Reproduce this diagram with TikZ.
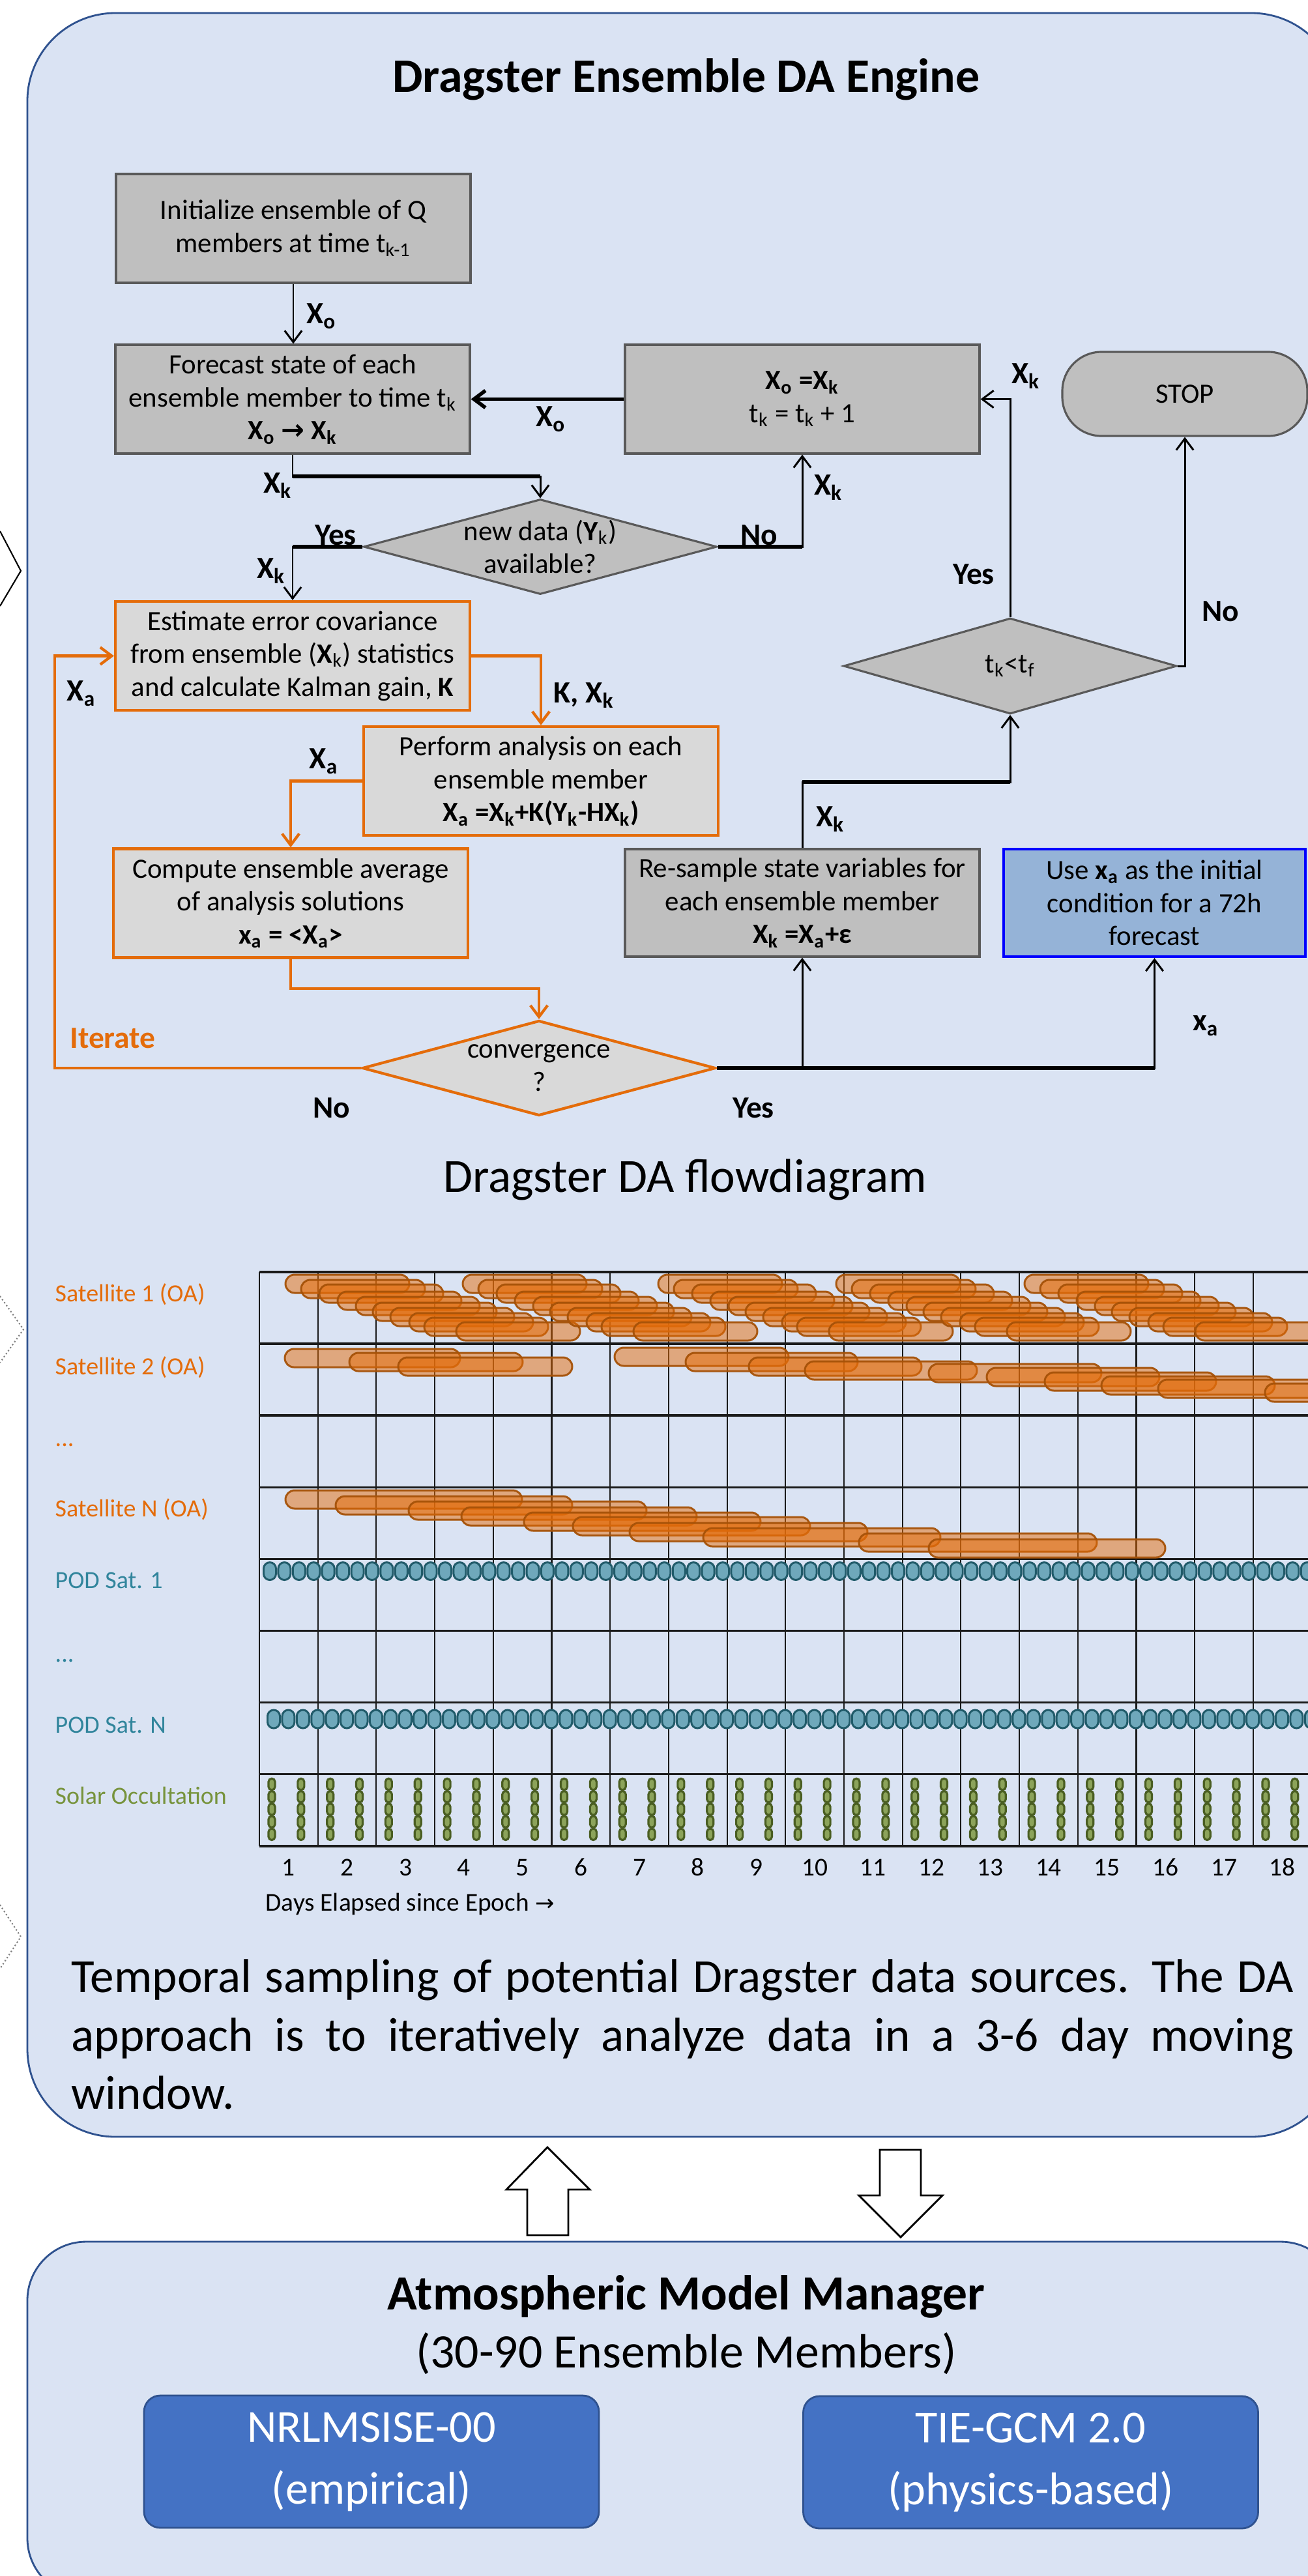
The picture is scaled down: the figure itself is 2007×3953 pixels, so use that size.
\documentclass[tikz,border=0pt]{standalone}
\usepackage{fontspec}
\setmainfont{Carlito}
\newfontfamily\arrowfont{DejaVu Sans}
\usetikzlibrary{shapes.geometric,arrows.meta}
\newcommand\sbs[1]{\textsubscript{#1}}
\newcommand\boxfont{\fontsize{12.2}{14.4}\selectfont}
\newcommand\lblfont{\fontsize{13.5}{15}\selectfont\bfseries}
\newcommand\bigfont{\fontsize{20.8}{25.4}\selectfont}
\newcommand\rowfont{\fontsize{10.8}{13}\selectfont}
\newcommand\modfont{\fontsize{20}{27}\selectfont}
\definecolor{panelfill}{HTML}{DAE3F3}
\definecolor{panelline}{HTML}{2F528F}
\definecolor{boxgray}{HTML}{BFBFBF}
\definecolor{boxlight}{HTML}{D9D9D9}
\definecolor{borderdark}{HTML}{595959}
\definecolor{orng}{HTML}{E46C0A}
\definecolor{pillline}{HTML}{A65208}
\definecolor{bluefill}{HTML}{95B3D7}
\definecolor{purebl}{HTML}{0000FF}
\definecolor{modelblue}{HTML}{4472C4}
\definecolor{tealtxt}{HTML}{31859C}
\definecolor{olivetxt}{HTML}{77933C}
\definecolor{podfill}{HTML}{6FA8BB}
\definecolor{podline}{HTML}{215B6A}
\definecolor{solfill}{HTML}{8CA35A}
\definecolor{solline}{HTML}{4A5E22}
\definecolor{gridline}{HTML}{1A1A1A}
\begin{document}
\begin{tikzpicture}[x=0.1mm,y=-0.1mm,
  panel/.style={fill=panelfill, draw=panelline, line width=0.8pt},
  gbox/.style={draw=borderdark, fill=boxgray, line width=0.9pt, minimum width=54.4mm, minimum height=16.7mm, inner sep=0pt, align=center, font=\boxfont},
  obox/.style={gbox, draw=orng, fill=boxlight, line width=1.2pt},
  gdia/.style={shape=diamond, draw=borderdark, fill=boxgray, line width=0.9pt, minimum width=54.2mm, minimum height=14.6mm, inner sep=0pt},
  odia/.style={gdia, draw=orng, fill=boxlight, line width=1.2pt},
  dtext/.style={align=center, font=\boxfont, inner sep=0pt},
  lbl/.style={font=\lblfont, inner sep=0pt},
  tip/.style={-{Straight Barb[length=5pt,width=7.5pt]}},
  blk/.style={draw=black, line width=0.85pt},
  blkthick/.style={draw=black, line width=1.6pt},
  orl/.style={draw=orng, line width=1.2pt},
  pill/.style={fill=orng, fill opacity=0.5, draw=pillline, draw opacity=0.95, line width=0.85pt, rounded corners=1.4mm},
  podov/.style={fill=podfill, draw=podline, line width=0.85pt, rounded corners=0.95mm},
  solov/.style={fill=solfill, draw=solline, line width=0.9pt, rounded corners=0.5mm},
  rowlbl/.style={font=\rowfont, anchor=base west, inner sep=0pt},
  blockarrow/.style={fill=white, draw=black, line width=0.8pt},
  modelbox/.style={fill=modelblue, draw=panelline, line width=0.8pt, rounded corners=2.5mm, minimum width=69.8mm, minimum height=20.3mm, align=center, text=white, font=\modfont, inner sep=0pt}
]
\useasboundingbox (0,0) rectangle (2007,3953);
\clip (0,0) rectangle (2007,3953);
\fill[white] (0,0) rectangle (2007,3953);

% panels
\draw[panel, rounded corners=13.5mm] (42,20) rectangle (2055,3279);
\draw[panel, rounded corners=9mm] (42,3440) rectangle (2055,3985);

% left chevrons
\draw[black, line width=0.6pt] (0,815) -- (32,876) -- (0,930);
\draw[gray, densely dotted, line width=0.6pt] (0,1989) -- (36,2040) -- (0,2091);
\draw[gray, densely dotted, line width=0.6pt] (0,2923) -- (32,2972) -- (0,3021);

% title
\node[font=\fontsize{21}{25}\selectfont\bfseries, anchor=base, inner sep=0pt] (title) at (1053,141) {Dragster Ensemble DA Engine};

% boxes
\node[gbox] (b1) at (450,350.5) {Initialize ensemble of Q\\members at time t\sbs{k-1}};
\node[gbox] (b2) at (449,612.5) {Forecast state of each\\ensemble member to time t\sbs{k}\\\textbf{X\sbs{o} {\arrowfont →} X\sbs{k}}};
\node[gbox] (b3) at (1231,612.5) {\textbf{X\sbs{o} =X\sbs{k}}\\t\sbs{k} = t\sbs{k} + 1};
\node[gbox, minimum width=37.6mm, minimum height=12.9mm, rounded corners=6mm] (stop) at (1818,604.5) {STOP};
\node[obox] (b4) at (449,1006.5) {Estimate error covariance\\from ensemble (\textbf{X}\sbs{k}) statistics\\and calculate Kalman gain, \textbf{K}};
\node[obox] (b5) at (830,1198.5) {Perform analysis on each\\ensemble member\\\textbf{X\sbs{a} =X\sbs{k}+K(Y\sbs{k}-HX\sbs{k})}};
\node[obox] (b6) at (446,1386) {Compute ensemble average\\of analysis solutions\\\textbf{x\sbs{a} = <X\sbs{a}>}};
\node[gbox, minimum height=16.5mm] (b7) at (1231,1385.5) {Re-sample state variables for\\each ensemble member\\\textbf{X\sbs{k} =X\sbs{a}+ε}};
\node[gbox, minimum width=46.3mm, minimum height=16.5mm, fill=bluefill, draw=purebl, line width=1.2pt] (b8) at (1771.5,1385.5) {Use \textbf{x\sbs{a}} as the initial\\condition for a 72h\\forecast};

% diamonds
\node[gdia] (d1) at (829,839) {};
\node[dtext] (d1t) at (d1.center) {new data (\textbf{Y}\sbs{k})\\available?};
\node[gdia, minimum width=51.1mm, minimum height=14.7mm] (d2) at (1550,1022) {};
\node[dtext] (d2t) at (d2.center) {t\sbs{k}<t\sbs{f}};
\node[odia] (d3) at (827,1639) {};
\node[dtext] (d3t) at (d3.center) {convergence\\?};

% connectors
\draw[blk,tip] (b1.south) -- (b1.south |- b2.north);
\draw[blkthick,tip] (b3.west) -- (b2.east);
\draw[blk,tip] (d2.north) |- (b3.east);
\draw[blk,tip] (d2.east) -| (stop.south);
\coordinate (j1) at (449,731);
\draw[blk,tip] (b2.south) -- (j1) -| (d1.north);
\draw[blkthick] (j1) -- (j1 -| d1.north);
\draw[blk,tip] (d1.west) -| (b4.north);
\draw[blkthick] (d1.west) -- (d1.west -| b4.north);
\draw[blk,tip] (d1.east) -| (b3.south);
\draw[blkthick] (d1.east) -- (d1.east -| b3.south);
\draw[orl,tip] (b4.east) -| (b5.north);
\draw[orl,tip] (b5.west) -| (b6.north);
\coordinate (j2) at (446,1517);
\draw[orl,tip] (b6.south) -- (j2) -| (d3.north);
\coordinate (j3) at (84,1639);
\draw[orl,tip] (d3.west) -- (j3) |- (b4.west);
\draw[blk,tip] (d3.east) -| (b8.south);
\draw[blkthick] (d3.east) -- (d3.east -| b8.south);
\draw[blk,tip] (d3.east -| b7.south) -- (b7.south);
\coordinate (j4) at (1231,1200);
\draw[blk,tip] (b7.north) -- (j4) -| (d2.south);
\draw[blkthick] (j4) -- (j4 -| d2.south);

% connector labels
\node[lbl] (l1) at (493,485) {X\sbs{o}};
\node[lbl] (l2) at (845,643) {X\sbs{o}};
\node[lbl] (l3) at (1574,577) {X\sbs{k}};
\node[lbl] (l4) at (426,745) {X\sbs{k}};
\node[lbl] (l5) at (515,821) {Yes};
\node[lbl] (l6) at (416,876) {X\sbs{k}};
\node[lbl] (l7) at (1165,821) {No};
\node[lbl] (l8) at (1271,748) {X\sbs{k}};
\node[lbl] (l9) at (1494,881) {Yes};
\node[lbl] (l10) at (1873,938) {No};
\node[lbl] (l11) at (896,1067) {K, X\sbs{k}};
\node[lbl] (l12) at (125,1064) {X\sbs{a}};
\node[lbl] (l13) at (497,1168) {X\sbs{a}};
\node[lbl] (l14) at (1274,1257) {X\sbs{k}};
\node[lbl, text=orng] (l15) at (173,1593) {Iterate};
\node[lbl] (l16) at (509,1700) {No};
\node[lbl] (l17) at (1156,1700) {Yes};
\node[lbl] (l18) at (1850,1574) {x\sbs{a}};

% caption of flow diagram
\node[font=\bigfont, inner sep=0pt] (cap1) at (1051,1810) {Dragster DA flowdiagram};

% grid
\foreach \k in {0,...,17} \draw[gridline, line width=0.6pt] ({398+89.7*\k},1952) -- ({398+89.7*\k},2833);
\foreach \j in {0,...,8} \draw[gridline, line width=1pt] (398,{1952+110.1*\j}) -- (2010,{1952+110.1*\j});

% Satellite 1 pills
\foreach \gx in {438,710,1010,1283,1572} {
  \foreach \dx/\ty in {0/1956, 24/1964, 52/1971, 80/1982, 108/1990, 134/1999, 161/2007, 190/2015, 213/2022, 262/2029} {
    \draw[pill] ({\gx+\dx},\ty) rectangle ({\gx+\dx+190},{\ty+28});
  }
}
% Satellite 2 pills
\foreach \xa/\xb/\ty in {437/706/2070, 536/802/2076, 611/878/2083, 943/1210/2068, 1052/1316/2076, 1149/1414/2083, 1235/1499/2089, 1425/1690/2093, 1514/1779/2099, 1603/1866/2106, 1690/1956/2112, 1777/2045/2117, 1941/2210/2123}
  \draw[pill] (\xa,\ty) rectangle (\xb,{\ty+28});
% Satellite N pills
\foreach \xa/\xb/\ty in {438/801/2287, 515/878/2296, 627/992/2304, 708/1069/2313, 804/1167/2321, 879/1243/2328, 966/1331/2337, 1079/1443/2345, 1318/1683/2353, 1425/1788/2362}
  \draw[pill] (\xa,\ty) rectangle (\xb,{\ty+28});

% POD ovals
\foreach \i in {0,...,71} \draw[podov] ({414+22.42*\i-9.5},2397.5) rectangle ({414+22.42*\i+9.5},2424.5);
\foreach \i in {0,...,71} \draw[podov] ({420+22.42*\i-9.5},2624) rectangle ({420+22.42*\i+9.5},2652);

% Solar occultation ovals
\foreach \i in {0,...,35} {
  \foreach \j in {0,...,4} {
    \draw[solov] ({417+44.85*\i-5},{2738+19.2*\j-8.8}) rectangle ({417+44.85*\i+5},{2738+19.2*\j+8.8});
  }
}

% row labels
\node[rowlbl, text=orng] (r1) at (84,1997) {Satellite 1 (OA)};
\node[rowlbl, text=orng] (r2) at (84,2109) {Satellite 2 (OA)};
\node[rowlbl, text=orng] (r3) at (84,2219) {...};
\node[rowlbl, text=orng] (r4) at (84,2327) {Satellite N (OA)};
\node[rowlbl, text=tealtxt] (r5) at (84,2437) {POD Sat. 1};
\node[rowlbl, text=tealtxt] (r6) at (84,2550) {...};
\node[rowlbl, text=tealtxt] (r7) at (84,2659) {POD Sat. N};
\node[rowlbl, text=olivetxt] (r8) at (84,2768) {Solar Occultation};

% day numbers
\foreach \i in {1,...,18} \node[font=\fontsize{11.2}{13}\selectfont, anchor=base, inner sep=0pt] (day\i) at ({398+89.7*(\i-0.5)},2878) {\i};
\node[font=\fontsize{11.2}{13}\selectfont, anchor=base west, inner sep=0pt] (axis) at (407,2932) {Days Elapsed since Epoch {\arrowfont\fontsize{10}{12}\selectfont →}};

% paragraph
\node[font=\bigfont, anchor=base west, inner sep=0pt] (p1) at (109,3057) {\makebox[187.5mm][s]{Temporal sampling of potential Dragster data sources. The DA}};
\node[font=\bigfont, anchor=base west, inner sep=0pt] (p2) at (109,3147) {\makebox[187.5mm][s]{approach is to iteratively analyze data in a 3-6 day moving}};
\node[font=\bigfont, anchor=base west, inner sep=0pt] (p3) at (109,3236) {window.};

% block arrows
\draw[blockarrow] (840,3295) -- (905,3360) -- (872,3360) -- (872,3430) -- (809,3430) -- (809,3360) -- (777,3360) -- cycle;
\draw[blockarrow] (1350,3299) -- (1413,3299) -- (1413,3369) -- (1446,3369) -- (1382,3433) -- (1318,3369) -- (1350,3369) -- cycle;

% bottom panel text
\node[font=\fontsize{21.5}{25}\selectfont\bfseries, anchor=base, inner sep=0pt] (amm) at (1053,3544) {Atmospheric Model Manager};
\node[font=\fontsize{21}{25}\selectfont, anchor=base, inner sep=0pt] (amm2) at (1053,3633) {(30-90 Ensemble Members)};
\node[modelbox] (m1) at (570,3777.5) {NRLMSISE-00\\(empirical)};
\node[modelbox] (m2) at (1581.5,3778.5) {TIE-GCM 2.0\\(physics-based)};
\end{tikzpicture}
\end{document}
